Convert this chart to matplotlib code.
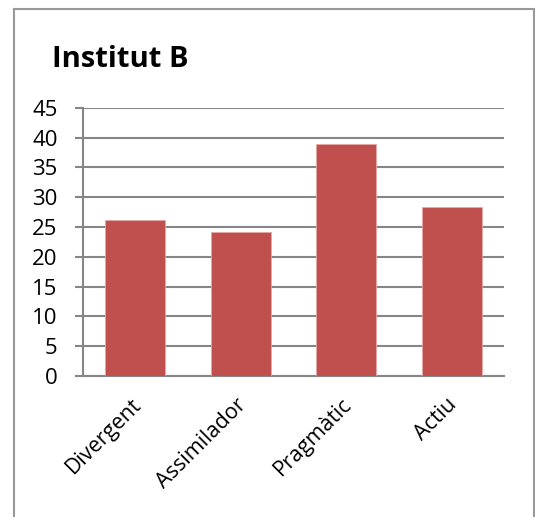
import matplotlib.pyplot as plt
import matplotlib.transforms as mtransforms
from matplotlib.patches import Rectangle

categories = ['Divergent', 'Assimilador', 'Pragmàtic', 'Actiu']
values = [26.1, 24.2, 38.9, 28.4]
yticks = [0, 5, 10, 15, 20, 25, 30, 35, 40, 45]

plt.rcParams['font.family'] = ['Open Sans', 'DejaVu Sans']

W, H = 535, 517
fig = plt.figure(figsize=(W / 100, H / 100), dpi=100)
ax = fig.add_axes([82.7 / W, 1 - 376 / H, (504.3 - 82.7) / W, (376 - 107.7) / H])

# chart border
fig.patches.append(Rectangle((14 / W, -0.05), (533.5 - 14) / W, 1 - 9 / H + 0.05,
                             transform=fig.transFigure, fill=False,
                             edgecolor='#999999', linewidth=1.5))

ax.bar(range(len(categories)), values, width=0.57, color='#C0504D',
       edgecolor='#E6A8A6', linewidth=0.6, zorder=3)

ax.set_xlim(-0.5, 3.5)
ax.set_ylim(0, 45)
ax.set_yticks(yticks)
ax.set_yticklabels([str(v) for v in yticks], fontsize=16)
ax.set_xticks(range(len(categories)))
ax.set_xticklabels(categories, fontsize=15.5, rotation=45, ha='right',
                   rotation_mode='anchor')
ax.tick_params(axis='x', length=0, pad=13)
ax.tick_params(axis='y', length=6, width=1.5, color='#868686', pad=12)

shift = mtransforms.ScaledTranslation(-5 / 100, 0, fig.dpi_scale_trans)
for lab in ax.get_xticklabels():
    lab.set_transform(lab.get_transform() + shift)

ax.grid(axis='y', color='#868686', linewidth=1.5, zorder=0)
ax.set_axisbelow(True)
for s in ['top', 'right']:
    ax.spines[s].set_visible(False)
ax.spines['left'].set_color('#868686')
ax.spines['left'].set_linewidth(1.5)
ax.spines['bottom'].set_color('#868686')
ax.spines['bottom'].set_linewidth(1.5)

fig.text(52 / W, 1 - 67 / H, 'Institut B', fontsize=21, fontweight='bold',
         ha='left', va='baseline')

plt.savefig('out.png', dpi=100)
